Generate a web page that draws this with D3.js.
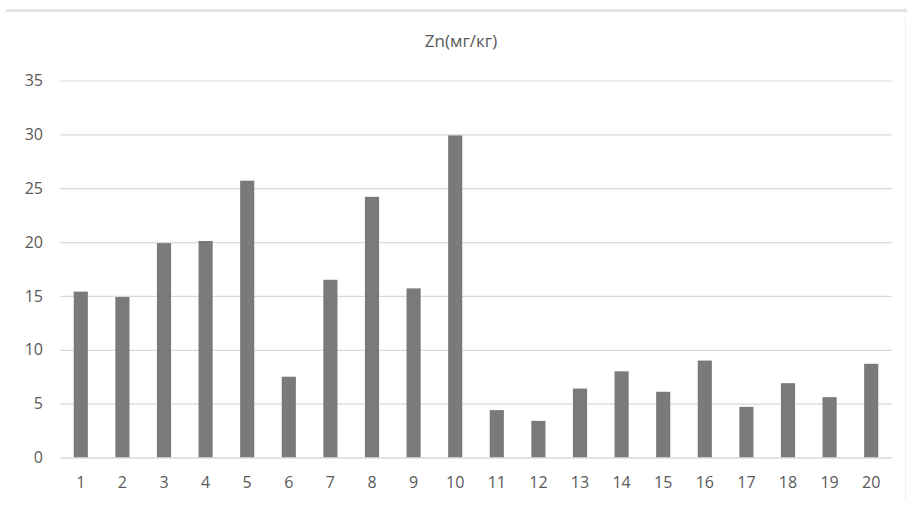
<!DOCTYPE html>
<html>
<head>
<meta charset="utf-8">
<script src="https://cdn.jsdelivr.net/npm/d3@7"></script>
<style>
  html, body { margin: 0; padding: 0; background: #fff; }
  svg { display: block; }
  text { font-family: "Open Sans", "Noto Sans", sans-serif; fill: #595959; }
</style>
</head>
<body>
<svg id="chart" width="907" height="506"></svg>
<script>
const title = "Zn(мг/кг)";
const categories = ["1","2","3","4","5","6","7","8","9","10","11","12","13","14","15","16","17","18","19","20"];
const values = [15.4, 14.9, 19.9, 20.1, 25.7, 7.5, 16.5, 24.2, 15.7, 29.9, 4.4, 3.4, 6.4, 8.0, 6.1, 9.0, 4.7, 6.9, 5.6, 8.7];
const yTicks = [0, 5, 10, 15, 20, 25, 30, 35];

const svg = d3.select("#chart");
const W = 907, H = 506;
const plot = { left: 60, right: 892, top: 80.5, bottom: 457.5 };

// chart frame hints
svg.append("rect").attr("x", 6).attr("y", 9).attr("width", W - 6).attr("height", 3).attr("fill", "#e3e3e3");
svg.append("line").attr("x1", 905.5).attr("x2", 905.5).attr("y1", 17).attr("y2", 500).attr("stroke", "#f0f0f0");

const x = d3.scaleBand().domain(categories).range([plot.left, plot.right]).paddingInner(0.66).paddingOuter(0.33);
const y = d3.scaleLinear().domain([0, 35]).range([plot.bottom, plot.top]);

// grid
const yAxis = d3.axisLeft(y).tickValues(yTicks).tickSize(-(plot.right - plot.left)).tickPadding(17).tickFormat(d3.format("d"));
const gy = svg.append("g").attr("transform", `translate(${plot.left},0)`).call(yAxis);
gy.select(".domain").remove();
gy.selectAll(".tick line").attr("stroke", "#d9d9d9").attr("stroke-width", 1.2);
gy.selectAll(".tick text").attr("font-size", 16).attr("fill", "#5f5f5f");

// bars
svg.append("g").selectAll("rect").data(values).join("rect")
  .attr("x", (d, i) => x(categories[i]))
  .attr("y", d => y(d))
  .attr("width", x.bandwidth())
  .attr("height", d => y(0) - y(d))
  .attr("fill", "#7a7a7a");

// x axis
const xAxis = d3.axisBottom(x).tickSize(0).tickPadding(19);
const gx = svg.append("g").attr("transform", `translate(0,${plot.bottom})`).call(xAxis);
gx.select(".domain").attr("stroke", "#d9d9d9").attr("stroke-width", 1.2);
gx.selectAll(".tick text").attr("font-size", 16).attr("fill", "#5f5f5f");

// title
svg.append("text").attr("x", 461).attr("y", 47).attr("text-anchor", "middle")
  .attr("font-size", 17).attr("fill", "#5f5f5f").text(title);
</script>
</body>
</html>
